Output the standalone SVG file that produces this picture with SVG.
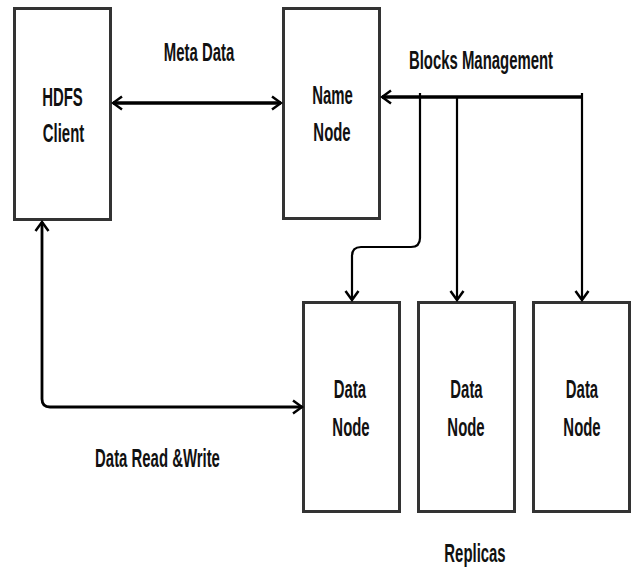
<svg xmlns="http://www.w3.org/2000/svg" width="632" height="573" viewBox="0 0 632 573">
<defs>
<marker id="ah" markerUnits="userSpaceOnUse" markerWidth="14" markerHeight="16" viewBox="0 0 14 16" refX="12" refY="8" orient="auto-start-reverse">
<path d="M3,1.5 L12,8 L3,14.5" fill="none" stroke="#000" stroke-width="2.5"/>
</marker>
<style>
.box{fill:#fff;stroke:#333;stroke-width:3}
.t{font-family:"Liberation Sans",Arial,sans-serif;font-size:25.5px;fill:#111;font-weight:bold;text-anchor:middle}
.c{fill:none;stroke:#000;stroke-linecap:butt}
</style>
</defs>
<rect width="632" height="573" fill="#fff"/>
<g id="hdfs-client">
<rect class="box" x="14.5" y="8.5" width="96" height="211"/>
<text class="t" transform="translate(62.5,106) scale(0.585,1)">HDFS</text>
<text class="t" transform="translate(63.5,142) scale(0.585,1)">Client</text>
</g>
<g id="name-node">
<rect class="box" x="283.5" y="8.5" width="96" height="210"/>
<text class="t" transform="translate(332.5,104) scale(0.585,1)">Name</text>
<text class="t" transform="translate(332,141) scale(0.585,1)">Node</text>
</g>
<g id="data-node-1">
<rect class="box" x="303.5" y="302.5" width="96" height="209"/>
<text class="t" transform="translate(350,398) scale(0.585,1)">Data</text>
<text class="t" transform="translate(351,436) scale(0.585,1)">Node</text>
</g>
<g id="data-node-2">
<rect class="box" x="418.5" y="302.5" width="96" height="209"/>
<text class="t" transform="translate(466.5,398) scale(0.585,1)">Data</text>
<text class="t" transform="translate(466,436) scale(0.585,1)">Node</text>
</g>
<g id="data-node-3">
<rect class="box" x="533.5" y="302.5" width="96" height="209"/>
<text class="t" transform="translate(582,398) scale(0.585,1)">Data</text>
<text class="t" transform="translate(582,436) scale(0.585,1)">Node</text>
</g>
<g id="labels">
<text class="t" transform="translate(199,61) scale(0.585,1)">Meta Data</text>
<text class="t" transform="translate(481,69) scale(0.585,1)">Blocks Management</text>
<text class="t" transform="translate(157.5,467) scale(0.585,1)">Data Read &amp;Write</text>
<text class="t" transform="translate(475,562) scale(0.585,1)">Replicas</text>
</g>
<g id="connectors">
<line class="c" x1="113" y1="103" x2="281" y2="103" stroke-width="3.5" marker-start="url(#ah)" marker-end="url(#ah)"/>
<line class="c" x1="582" y1="97" x2="382" y2="97" stroke-width="3.5" marker-end="url(#ah)"/>
<path class="c" d="M420,93 L420,238 Q420,247 411,247 L361,247 Q352,247 352,256 L352,300" stroke-width="2.2" marker-end="url(#ah)"/>
<line class="c" x1="457" y1="97" x2="457" y2="300" stroke-width="2.2" marker-end="url(#ah)"/>
<line class="c" x1="582" y1="93" x2="582" y2="300" stroke-width="2.2" marker-end="url(#ah)"/>
<path class="c" d="M302,407 L50,407 Q42,407 42,399 L42,222" stroke-width="2.8" marker-end="url(#ah)" marker-start="url(#ah)"/>
</g>
</svg>
